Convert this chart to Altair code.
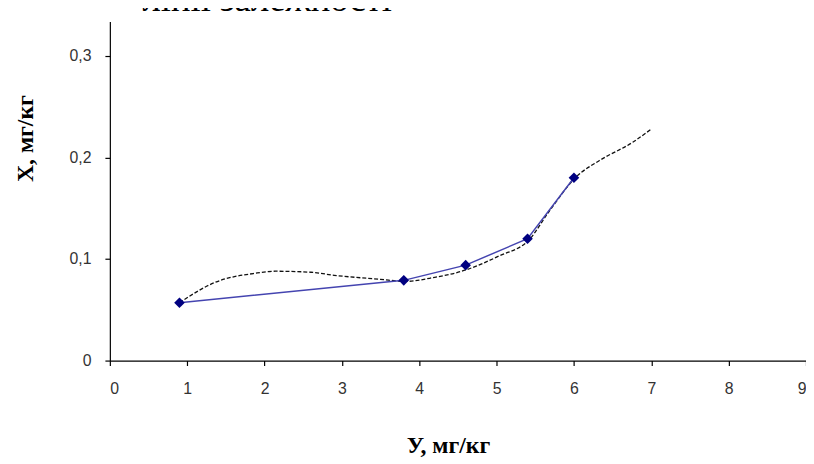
import altair as alt
import pandas as pd

# observed points
x_obs = [0.9, 3.8, 4.6, 5.4, 6.0]
y_obs = [0.057, 0.079, 0.094, 0.12, 0.18]

# dashed trend curve
trend_x = [0.9, 1.36, 1.88, 2.14, 2.6, 2.9, 3.5, 3.82, 4.2, 4.55, 5.03, 5.42, 5.68, 6.03, 6.33, 6.76, 7.0]
trend_y = [0.057, 0.077, 0.086, 0.088, 0.087, 0.084, 0.080, 0.078, 0.082, 0.088, 0.103, 0.119, 0.147, 0.181, 0.197, 0.215, 0.228]

x_ticks = [0, 1, 2, 3, 4, 5, 6, 7, 8, 9]
y_ticks = [0, 0.1, 0.2, 0.3]

caption = ["лінії залежності"]

obs = pd.DataFrame({"x": x_obs, "y": y_obs})
trend = pd.DataFrame({"x": trend_x, "y": trend_y})
cap = pd.DataFrame({"t": caption})

xs = alt.Scale(domain=[0, 9], nice=False, zero=False)
ys = alt.Scale(domain=[0, 0.334], nice=False)

x_axis = alt.Axis(
    values=x_ticks, grid=False, domainColor="#000", domainWidth=1.2,
    tickColor="#000", tickSize=5, tickWidth=1.2, format="d",
    labelFont="Liberation Sans", labelFontSize=16, labelColor="#333",
    labelPadding=15,
    title="У,  мг/кг", titleFont="Liberation Serif", titleFontSize=24,
    titleFontWeight="bold", titleColor="#000",
    titleX=342, titleY=86, titleBaseline="middle", titleAlign="center",
)
y_axis = alt.Axis(
    values=y_ticks, grid=False, domainColor="#000", domainWidth=1.2,
    tickColor="#000", tickSize=5, tickWidth=1.2,
    labelFont="Liberation Sans", labelFontSize=16, labelColor="#333",
    labelPadding=14,
    labelExpr="datum.value == 0 ? '0' : replace(format(datum.value, '.1f'), '.', ',')",
    title="Х,  мг/кг", titleFont="Liberation Serif", titleFontSize=24,
    titleFontWeight="bold", titleColor="#000",
    titleX=-85, titleY=118, titleBaseline="middle", titleAlign="center",
    titleAngle=270,
)

trend_line = alt.Chart(trend).mark_line(
    color="#111", strokeDash=[4, 2], strokeWidth=1.3, interpolate="monotone"
).encode(x=alt.X("x:Q", scale=xs, axis=x_axis), y=alt.Y("y:Q", scale=ys, axis=y_axis))

obs_line = alt.Chart(obs).mark_line(color="#4444b0", strokeWidth=1.5).encode(
    x=alt.X("x:Q", scale=xs), y=alt.Y("y:Q", scale=ys)
)

obs_pts = alt.Chart(obs).mark_point(
    shape="diamond", filled=True, color="#000080", size=115, opacity=1
).encode(x=alt.X("x:Q", scale=xs), y=alt.Y("y:Q", scale=ys))

cap_text = alt.Chart(cap).mark_text(
    font="Liberation Serif", fontSize=37, align="left", baseline="alphabetic", color="#000"
).encode(text="t:N", x=alt.value(33), y=alt.value(-11))

chart = alt.layer(trend_line, obs_line, obs_pts, cap_text).properties(
    width=704, height=343,
    autosize=alt.AutoSizeParams(type="none"),
    padding={"left": 103, "top": 11, "right": 0, "bottom": 100},
).configure_view(stroke=None)

chart.save("out.html", embed_options={"renderer": "svg", "actions": False})
